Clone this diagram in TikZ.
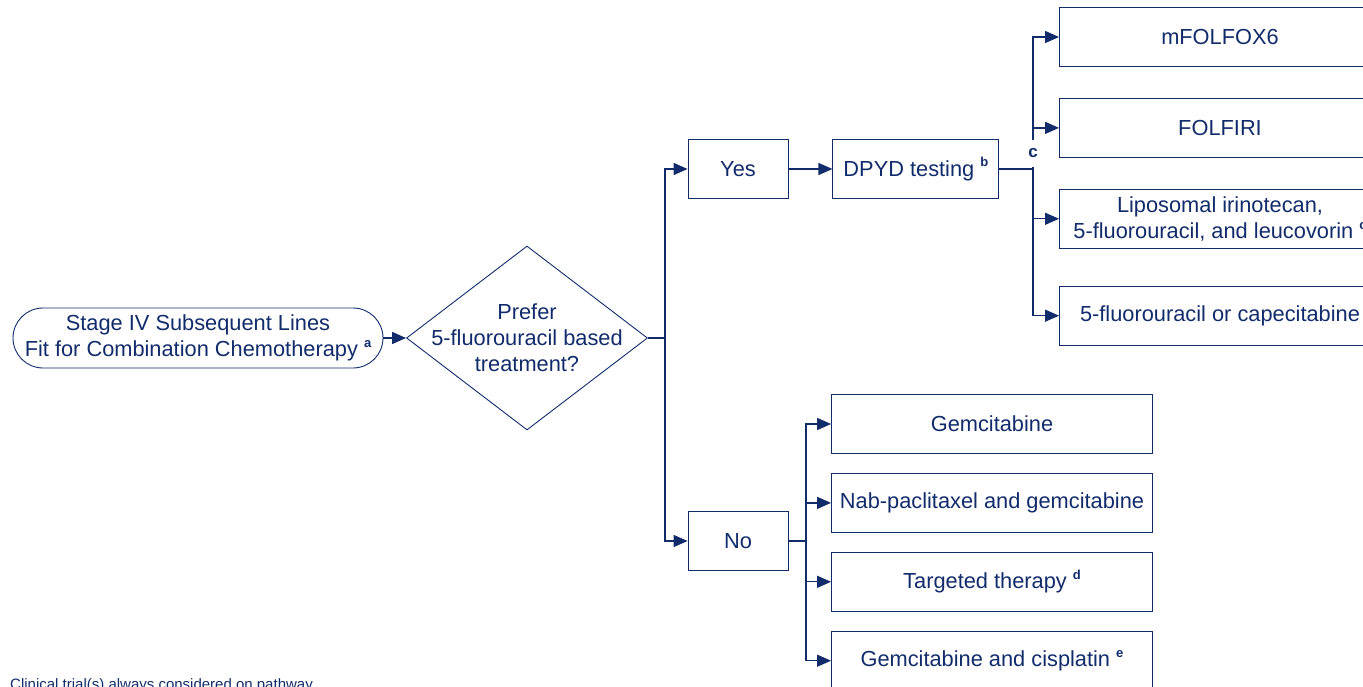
\documentclass[tikz,border=0pt]{standalone}
\usepackage{fontspec}
\setmainfont{Liberation Sans}
\usetikzlibrary{arrows.meta,shapes.geometric,positioning}
\definecolor{navy}{HTML}{112B6B}
\tikzset{
  basic/.style    = {draw=navy, line width=0.9pt, text=navy, align=center,
                     font=\fontsize{21.8}{26}\selectfont, rectangle},
  start/.style    = {basic, rounded corners=30pt, minimum width=370pt,
                     minimum height=60pt},
  decision/.style = {draw=navy, line width=0.9pt, diamond, inner sep=0pt,
                     minimum width=241pt, minimum height=184pt},
  answer/.style   = {basic, minimum width=100pt, minimum height=59pt},
  test/.style     = {basic, minimum width=166pt, minimum height=59pt},
  regimen/.style  = {basic, minimum width=321pt, minimum height=59pt},
  link/.style     = {draw=navy, line width=1.3pt},
  arr/.style      = {link, -{Triangle[length=14pt,width=12pt]}}
}
\newcommand{\fnote}[1]{\raisebox{0.8ex}{\fontsize{13}{13}\selectfont\bfseries #1}}

\begin{document}
\begin{tikzpicture}[x=1pt, y=-1pt]
\useasboundingbox (0,0) rectangle (1363,687);

% entry and question
\node[start] (stage) at (198,338)
  {Stage IV Subsequent Lines\\Fit for Combination Chemotherapy \fnote{a}};
\node[decision] (prefer) at (527,338) {};
\node[basic, draw=none] (preferq) at (prefer)
  {Prefer\\5-fluorouracil based\\treatment?};

% answers
\node[answer] (yes) at (738,169) {Yes};
\node[answer] (no)  at (738,541) {No};
\node[test, right=44pt of yes] (dpyd) {DPYD testing \fnote{b}};

% 5-fluorouracil based regimens
\node[regimen] (mfolfox) at (1220,37) {mFOLFOX6};
\node[regimen, below=31pt of mfolfox] (folfiri) {FOLFIRI};
\node[regimen, below=31pt of folfiri] (nalirifox)
  {Liposomal irinotecan,\\5-fluorouracil, and leucovorin \fnote{c}};
\node[regimen, below=37pt of nalirifox] (fucap) {5-fluorouracil or capecitabine};

% gemcitabine based regimens
\node[regimen] (gem) at (992,424) {Gemcitabine};
\node[regimen, below=19pt of gem] (nabgem) {Nab-paclitaxel and gemcitabine};
\node[regimen, below=19pt of nabgem] (target) {Targeted therapy \fnote{d}};
\node[regimen, below=19pt of target] (gemcis) {Gemcitabine and cisplatin \fnote{e}};

% junctions
\coordinate (j1) at (665,338);
\coordinate (j2) at (1033,169);
\coordinate (j3) at (806,541);

\draw[arr] (stage) -- (prefer);
\draw[link] (prefer.east) -- (j1);
\draw[arr] (j1) |- (yes.west);
\draw[arr] (j1) |- (no.west);
\draw[arr] (yes) -- (dpyd);

\draw[link] (dpyd.east) -- (j2);
\foreach \value in {mfolfox,folfiri,nalirifox,fucap}
  \draw[arr] (j2) |- (\value.west);

\draw[link] (no.east) -- (j3);
\foreach \value in {gem,nabgem,target,gemcis}
  \draw[arr] (j3) |- (\value.west);

\node[fill=white, text=navy, font=\fontsize{17}{17}\selectfont\bfseries,
      inner sep=0pt, minimum width=14pt, minimum height=27pt] (cmark)
  at (1033,153.5) {c};

\node[anchor=base west, text=navy, inner sep=0pt,
      font=\fontsize{15}{18}\selectfont] (trial) at (10,689)
  {Clinical trial(s) always considered on pathway};
\end{tikzpicture}
\end{document}
